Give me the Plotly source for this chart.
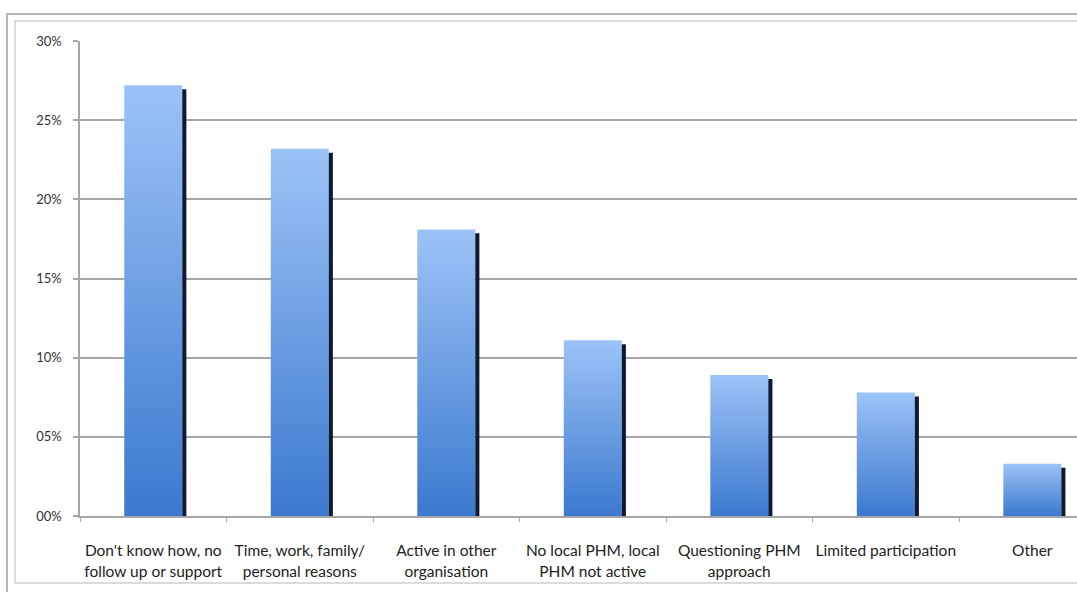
import plotly.graph_objects as go

# Reasons for not being involved (share of respondents, %)
categories = [
    "Don't know how, no<br>follow up or support",
    "Time, work, family/<br>personal reasons",
    "Active in other<br>organisation",
    "No local PHM, local<br>PHM not active",
    "Questioning PHM<br>approach",
    "Limited participation",
    "Other",
]
values = [27.2, 23.2, 18.1, 11.1, 8.9, 7.8, 3.3]

y_tickvals = [0, 5, 10, 15, 20, 25, 30]
y_ticktext = ["00%", "05%", "10%", "15%", "20%", "25%", "30%"]

HALF = 0.198       # half width of the blue column (category units)
SHADOW = 0.028     # width of the dark edge on the right
SHADOW_DROP = 0.25 # dark edge starts slightly below the column top (%)

fig = go.Figure()

for i, v in enumerate(values):
    # blue column with vertical gradient
    fig.add_trace(go.Scatter(
        x=[i - HALF, i - HALF, i + HALF, i + HALF, i - HALF],
        y=[0, v, v, 0, 0],
        mode="lines",
        line=dict(width=0),
        fill="toself",
        fillgradient=dict(
            type="vertical",
            colorscale=[[0, "#3b79cf"], [1, "#9cc3f7"]],
        ),
        hoverinfo="skip",
        showlegend=False,
    ))
    # dark right-hand edge
    fig.add_trace(go.Scatter(
        x=[i + HALF, i + HALF, i + HALF + SHADOW, i + HALF + SHADOW, i + HALF],
        y=[0, v - SHADOW_DROP, v - SHADOW_DROP, 0, 0],
        mode="lines",
        line=dict(width=0),
        fill="toself",
        fillcolor="#0d1a33",
        hoverinfo="skip",
        showlegend=False,
    ))

axis_grey = "#a6a6a6"

fig.update_xaxes(
    range=[-0.5, 6.305],
    tickvals=list(range(len(categories))),
    ticktext=categories,
    ticks="",
    showgrid=False,
    zeroline=False,
    showline=True,
    linecolor=axis_grey,
    linewidth=1.5,
    tickfont=dict(family="Lato, Open Sans, sans-serif", size=15.5, color="#222222"),
    ticklabelstandoff=20,
    minor=dict(
        tickvals=[k + 0.5 for k in range(-1, len(categories))],
        ticks="outside",
        ticklen=4,
        tickcolor=axis_grey,
        tickwidth=1,
        showgrid=False,
    ),
)

fig.update_yaxes(
    range=[0, 30],
    tickvals=y_tickvals,
    ticktext=y_ticktext,
    ticks="outside",
    ticklen=5,
    tickcolor=axis_grey,
    tickwidth=1.5,
    showgrid=True,
    gridcolor=axis_grey,
    gridwidth=1.5,
    zeroline=False,
    showline=True,
    linecolor=axis_grey,
    linewidth=1.5,
    tickfont=dict(family="Lato, Open Sans, sans-serif", size=13, color="#333333"),
    ticklabelstandoff=9,
)

# double frame around the chart
fig.add_shape(type="rect", xref="paper", yref="paper", layer="below",
              x0=-73 / 997, x1=1.05, y0=-0.2, y1=(516 - 14) / 475,
              line=dict(color="#b4b4b4", width=2), fillcolor="rgba(0,0,0,0)")
fig.add_shape(type="rect", xref="paper", yref="paper", layer="below",
              x0=-65 / 997, x1=1.05, y0=-(583 - 516) / 475, y1=(516 - 21) / 475,
              line=dict(color="#cfcfcf", width=1.5), fillcolor="rgba(0,0,0,0)")

fig.update_layout(
    width=1077,
    height=592,
    margin=dict(l=80, r=0, t=41, b=76),
    paper_bgcolor="white",
    plot_bgcolor="white",
    showlegend=False,
)

fig.write_html("out.html")
